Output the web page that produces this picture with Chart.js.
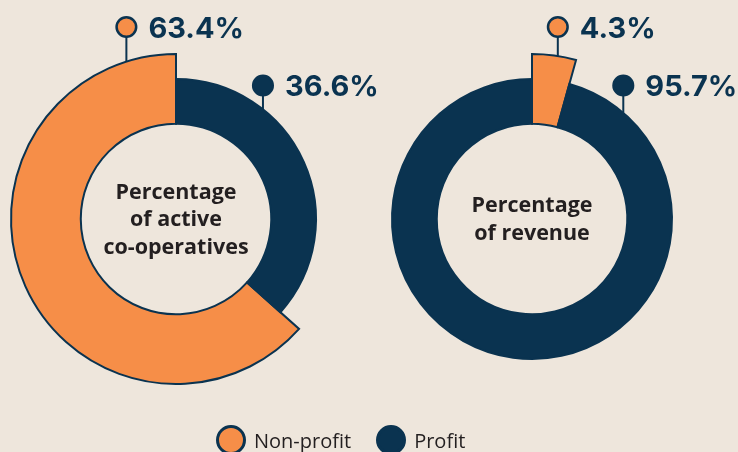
<!DOCTYPE html>
<html>
<head>
<meta charset="utf-8">
<script src="https://cdn.jsdelivr.net/npm/chart.js@4.4.1/dist/chart.umd.min.js"></script>
<style>
html,body{margin:0;padding:0}
body{background:#EEE6DC;width:738px;height:452px;overflow:hidden;position:relative}
#coopChart{position:absolute;left:0;top:0}
#revenueChart{position:absolute;left:356px;top:0}
#legend{position:absolute;left:216px;top:425px;display:flex;align-items:center;
  font-family:"Open Sans",sans-serif;font-size:20px;color:#231F20;white-space:nowrap}
#legend .item{display:flex;align-items:center;margin-right:25px}
#legend .dot{width:24px;height:24px;border-radius:50%;border:3px solid #0A3350;margin-right:8px}
</style>
</head>
<body>
<canvas id="coopChart" width="384" height="438"></canvas>
<canvas id="revenueChart" width="382" height="438"></canvas>
<div id="legend"></div>

<script>
const segments = ["Non-profit", "Profit"]
const coopShare = [63.4, 36.6]
const revenueShare = [4.3, 95.7]
const coopTitle = ["Percentage", "of active", "co-operatives"]
const revenueTitle = ["Percentage", "of revenue"]

const ORANGE = "#F68E48"
const NAVY = "#0A3350"
const INK = "#231F20"
const colors = [ORANGE, NAVY]

// non-profit ring sticks out further than the profit ring
const ringScale = [1, 140/165]

const ringPlugin = {
  id:"ring",
  beforeDatasetsDraw(chart){
    const meta = chart.getDatasetMeta(0)
    const base = meta.controller.outerRadius
    meta.data.forEach((arc,i) => {
      arc.outerRadius = base * ringScale[i]
    })
  },
  afterDraw(chart, args, opts){
    const ctx = chart.ctx
    const meta = chart.getDatasetMeta(0)
    const values = chart.data.datasets[0].data

    meta.data.forEach((arc,i) => {
      const a = opts.angles[i] * Math.PI / 180
      const ax = arc.x + Math.sin(a) * arc.outerRadius
      const ay = arc.y - Math.cos(a) * arc.outerRadius
      const my = arc.y - opts.lift[i]

      ctx.save()
      ctx.strokeStyle = NAVY
      ctx.lineWidth = 2
      ctx.beginPath()
      ctx.moveTo(ax, ay)
      ctx.lineTo(ax, my)
      ctx.stroke()

      ctx.beginPath()
      ctx.arc(ax, my, 9.8, 0, Math.PI*2)
      ctx.fillStyle = colors[i]
      ctx.fill()
      ctx.lineWidth = 2.5
      ctx.stroke()

      ctx.fillStyle = NAVY
      ctx.font = "700 29px Inter"
      ctx.textBaseline = "middle"
      ctx.textAlign = "left"
      ctx.fillText(values[i].toFixed(1) + "%", ax + 22, my + 2)
      ctx.restore()
    })

    const cx = meta.data[0].x
    const cy = meta.data[0].y
    const lines = opts.title
    ctx.save()
    ctx.fillStyle = INK
    ctx.font = "700 21.5px 'Open Sans'"
    ctx.textAlign = "center"
    ctx.textBaseline = "alphabetic"
    lines.forEach((t,i) => {
      ctx.fillText(t, cx, cy + 7 + (i - (lines.length-1)/2) * 27.5)
    })
    ctx.restore()
  }
}

function makeDonut(id, values, rotation, angles, title, padRight){
  return new Chart(document.getElementById(id), {
    type:"doughnut",
    data:{
      labels:segments,
      datasets:[{
        data:values,
        backgroundColor:colors,
        borderColor:NAVY,
        borderWidth:2,
        borderJoinStyle:"miter"
      }]
    },
    options:{
      responsive:false,
      animation:false,
      devicePixelRatio:1,
      radius:165,
      cutout:101,
      rotation:rotation,
      layout:{ padding:{ left:0, right:padRight, top:0, bottom:0 } },
      plugins:{
        legend:{ display:false },
        tooltip:{ enabled:false },
        ring:{ angles:angles, lift:[192, 133.5], title:title }
      }
    },
    plugins:[ringPlugin]
  })
}

// left chart: profit slice starts at 12 o'clock
const coopRotation = coopShare[1] / (coopShare[0] + coopShare[1]) * 360
makeDonut("coopChart", coopShare, coopRotation, [342.5, 38.4], coopTitle, 32)
makeDonut("revenueChart", revenueShare, 0, [9, 40.7], revenueTitle, 30)

const legendEl = document.getElementById("legend")
segments.forEach((name,i) => {
  const item = document.createElement("span")
  item.className = "item"
  const dot = document.createElement("span")
  dot.className = "dot"
  dot.style.background = colors[i]
  const label = document.createElement("span")
  label.textContent = name
  item.appendChild(dot)
  item.appendChild(label)
  legendEl.appendChild(item)
})
</script>
</body>
</html>
